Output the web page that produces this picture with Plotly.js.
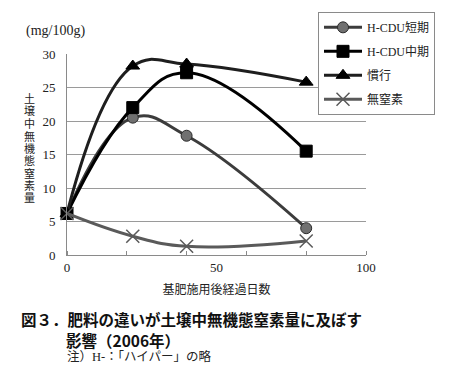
<!DOCTYPE html>
<html>
<head>
<meta charset="utf-8">
<script src="https://cdn.plot.ly/plotly-3.0.1.min.js"></script>
<style>html,body{margin:0;padding:0;background:#fff;}#chart{width:458px;height:374px;}</style>
</head>
<body>
<div id="chart"></div>
<script>
const days = [0, 22, 40, 80];
const seriesNames = ["H-CDU短期", "H-CDU中期", "慣行", "無窒素"];
const shortTerm = [6.2, 20.5, 17.8, 4.0];
const midTerm = [6.2, 22.0, 27.2, 15.5];
const conventional = [6.2, 28.2, 28.5, 25.8];
const noNitrogen = [6.2, 2.8, 1.3, 2.1];
const yTicks = [0, 5, 10, 15, 20, 25, 30];
const xTicks = [0, 50, 100];

const SERIF = "Liberation Serif, DejaVu Serif, Noto Sans CJK JP, serif";
const L = 67, R = 366, T = 50, B = 255;
const px = x => (x - L) / (R - L);
const py = y => (B - y) / (B - T);

function tr(name, y, lineColor, sym, mFill, mLine, mSize, group) {
  return {
    x: days, y: y, name: name, type: 'scatter', mode: 'lines+markers',
    line: {color: lineColor, width: 3, shape: 'spline', smoothing: 1.2},
    marker: {symbol: sym, size: mSize, color: mFill, line: {color: mLine, width: sym === 'x-thin' ? 1.5 : 1}},
    cliponaxis: false, legendgroup: group
  };
}
const data = [
  tr(seriesNames[0], shortTerm, '#3c3c3c', 'circle', '#707070', '#2a2a2a', 11, 'a'),
  tr(seriesNames[1], midTerm, '#000000', 'square', '#000000', '#000000', 12, 'b'),
  tr(seriesNames[2], conventional, '#1e1e1e', 'triangle-up', '#000000', '#000000', 12, 'c'),
  tr(seriesNames[3], noNitrogen, '#5a5a5a', 'x-thin', '#5a5a5a', '#5a5a5a', 13, 'd')
];

const annotations = [
  {text: '(mg/100g)', x: px(24), y: py(27), xanchor: 'left', yanchor: 'middle', font: {family: SERIF, size: 14, color: '#222'}},
  {text: '図３．肥料の違いが土壌中無機態窒素量に及ぼす', x: px(19), y: py(320), xanchor: 'left', yanchor: 'middle', font: {family: 'Noto Sans CJK JP, sans-serif', size: 15.5, color: '#111', weight: 'bold'}},
  {text: '影響（2006年）', x: px(64), y: py(342), xanchor: 'left', yanchor: 'middle', font: {family: 'Noto Sans CJK JP, sans-serif', size: 15.5, color: '#111', weight: 'bold'}},
  {text: '注）H-：「ハイパー」の略', x: px(65), y: py(359), xanchor: 'left', yanchor: 'middle', font: {family: SERIF, size: 12.5, color: '#222'}}
];
const yTitle = '土壌中無機態窒素量';
for (let i = 0; i < yTitle.length; i++) {
  annotations.push({text: yTitle[i], x: px(29), y: py(96 + i * 12.6), xanchor: 'center', yanchor: 'middle', borderpad: 0, font: {family: SERIF, size: 11, color: '#222'}});
}
annotations.forEach(a => { a.xref = 'paper'; a.yref = 'paper'; a.showarrow = false; });

const layout = {
  width: 458, height: 374,
  margin: {l: L, r: 458 - R, t: T, b: 374 - B, pad: 0},
  paper_bgcolor: '#fff', plot_bgcolor: '#fff',
  font: {family: SERIF, size: 13, color: '#222'},
  showlegend: true,
  legend: {
    x: px(318), y: py(7), xanchor: 'left', yanchor: 'top',
    bordercolor: '#8a8a8a', borderwidth: 1, bgcolor: '#fff',
    font: {family: SERIF, size: 12, color: '#222'},
    traceorder: 'grouped', tracegroupgap: 5, itemwidth: 38
  },
  xaxis: {
    range: [0, 100], tickvals: xTicks, ticktext: xTicks.map(String),
    ticks: '', showgrid: false, zeroline: false,
    showline: true, linecolor: '#8a8a8a', linewidth: 1,
    minor: {dtick: 20, tick0: 0, ticks: 'inside', ticklen: 4, tickcolor: '#8a8a8a', showgrid: false},
    tickfont: {family: SERIF, size: 13, color: '#222'},
    title: {text: '基肥施用後経過日数', font: {family: SERIF, size: 12, color: '#222'}, standoff: 12},
    fixedrange: true
  },
  yaxis: {
    range: [0, 30], tickvals: yTicks, ticks: '', showgrid: true, gridcolor: '#9a9a9a', gridwidth: 1,
    zeroline: false, showline: true, linecolor: '#8a8a8a', linewidth: 1,
    tickfont: {family: SERIF, size: 13, color: '#222'}, ticklabelstandoff: 8,
    fixedrange: true
  },
  annotations: annotations
};
Plotly.newPlot('chart', data, layout, {staticPlot: true, displayModeBar: false});
</script>
</body>
</html>
